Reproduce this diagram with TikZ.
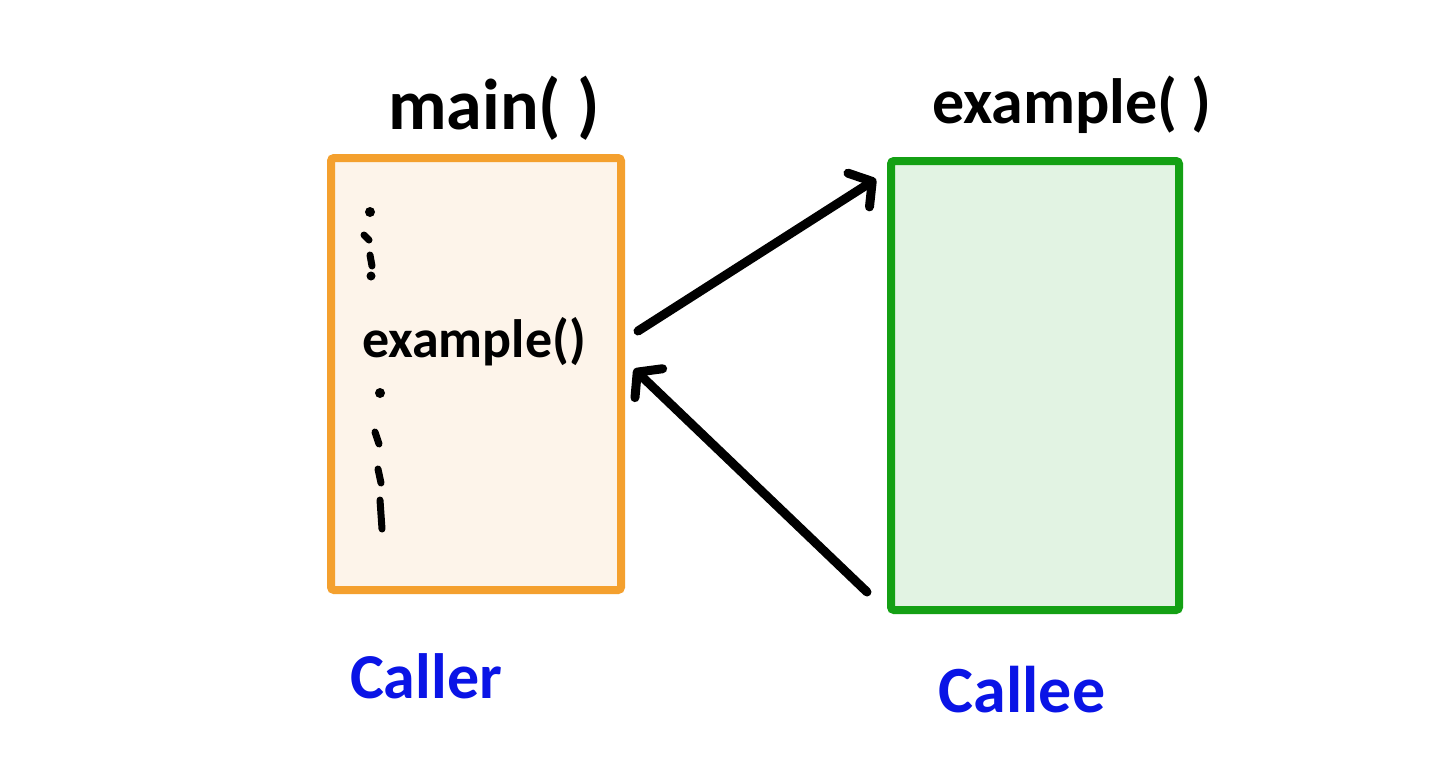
\documentclass[tikz,border=0pt]{standalone}
\usepackage{fontspec}
\setmainfont{Carlito}
\usetikzlibrary{arrows.meta}
\definecolor{orangeline}{HTML}{F4A02E}
\definecolor{orangefill}{HTML}{FDF4EA}
\definecolor{greenline}{HTML}{14A014}
\definecolor{greenfill}{HTML}{E2F3E3}
\definecolor{handblue}{HTML}{0A14E6}
\tikzset{
  box/.style={draw, line width=8pt, rounded corners=3pt, minimum width=#1, inner sep=0pt, outer sep=0pt},
  hand/.style={font=\bfseries\fontsize{#1}{#1}\selectfont, inner sep=0pt},
  conn/.style={line width=9pt, line cap=round, -{Straight Barb[length=16pt,width=40pt,round]}},
  tick/.style={line width=7pt, line cap=round}
}
\begin{document}
\begin{tikzpicture}[x=1pt,y=-1pt]
\useasboundingbox[fill=white] (0,0) rectangle (1440,758);
% boxes
\node[box=290pt, minimum height=432pt, draw=orangeline, fill=orangefill] (mainbox) at (476,374) {};
\node[box=288pt, minimum height=449pt, draw=greenline, fill=greenfill] (exbox) at (1035,385.5) {};
% titles
\node[hand=72pt] (maintitle) at (494,108) {main( )};
\node[hand=64pt] (extitle) at (1072,105) {example( )};
\node[hand=54pt] (excall) at (474,342) {example()};
\node[hand=64pt, text=handblue] (caller) at (426,676) {Caller};
\node[hand=66pt, text=handblue] (callee) at (1022,690) {Callee};
% ellipsis marks
\fill (370,212) circle (5pt);
\draw[tick] (364,235) -- (369,240);
\draw[tick] (370,255) -- (372,266);
\fill (371,276) circle (4.5pt);
\fill (380,393) circle (5pt);
\draw[tick] (375,432) -- (379,444);
\draw[tick] (378,469) -- (381,483);
\draw[tick] (380,500) -- (382,529);
% connectors
\coordinate (callstart) at (638,331);
\coordinate (calltip) at (876,179);
\coordinate (retstart) at (867,592);
\coordinate (rettip) at (634,369);
\draw[conn] (callstart) -- (calltip);
\draw[conn] (retstart) -- (rettip);
\end{tikzpicture}
\end{document}
